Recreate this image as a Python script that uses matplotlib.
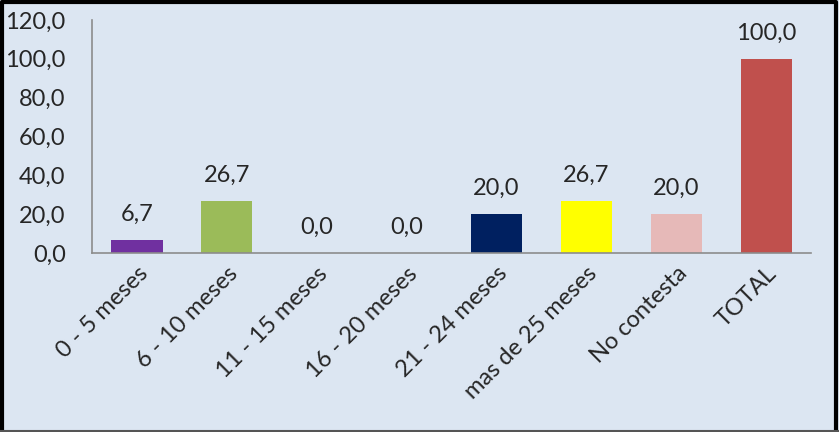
import matplotlib.pyplot as plt
from matplotlib.lines import Line2D

# Data
categories = ['0 - 5 meses', '6 - 10 meses', '11 - 15 meses', '16 - 20 meses',
              '21 - 24 meses', 'mas de 25 meses', 'No contesta', 'TOTAL']
values = [6.7, 26.7, 0.0, 0.0, 20.0, 26.7, 20.0, 100.0]
colors = ['#7030A0', '#9BBB59', '#4F81BD', '#4F81BD',
          '#002060', '#FFFF00', '#E6B9B8', '#C0504D']
yticks = [0, 20, 40, 60, 80, 100, 120]

plt.rcParams['font.family'] = ['Lato', 'DejaVu Sans']

bg = '#DCE6F2'
fig = plt.figure(figsize=(8.39, 4.32), dpi=100)
fig.patch.set_facecolor(bg)
ax = fig.add_axes([0.1097, 0.414, 0.857, 0.54])
ax.set_facecolor(bg)

x = range(len(categories))
ax.bar(x, values, width=0.57, color=colors)

# Value labels
for xi, v in zip(x, values):
    ax.annotate(f'{v:.1f}'.replace('.', ','), (xi, v), xytext=(0, 11),
                textcoords='offset points', ha='center', va='bottom',
                fontsize=17, color='#262626')

ax.set_xlim(-0.5, len(categories) - 0.5)
ax.set_ylim(0, 120)
ax.set_yticks(yticks)
ax.set_yticklabels([f'{t:.1f}'.replace('.', ',') for t in yticks],
                   fontsize=17, color='#262626')
ax.set_xticks(list(x))
ax.set_xticklabels(categories, rotation=45, ha='right', rotation_mode='anchor',
                   fontsize=17, color='#262626')
ax.tick_params(axis='both', length=0, pad=7)
ax.tick_params(axis='y', pad=19)

for s in ['top', 'right']:
    ax.spines[s].set_visible(False)
for s in ['left', 'bottom']:
    ax.spines[s].set_color('#8C8C8C')
    ax.spines[s].set_linewidth(1.2)

# Figure border: black left/top/right, thin grey bottom
tf = fig.transFigure
fig.lines.append(Line2D([0.002, 0.002, 0.997, 0.997], [0.0, 0.995, 0.995, 0.0],
                        transform=tf, color='black', linewidth=3))
fig.lines.append(Line2D([0, 1], [0.003, 0.003], transform=tf,
                        color='#555555', linewidth=1.5))

fig.savefig('out.png', dpi=100, facecolor=bg)
